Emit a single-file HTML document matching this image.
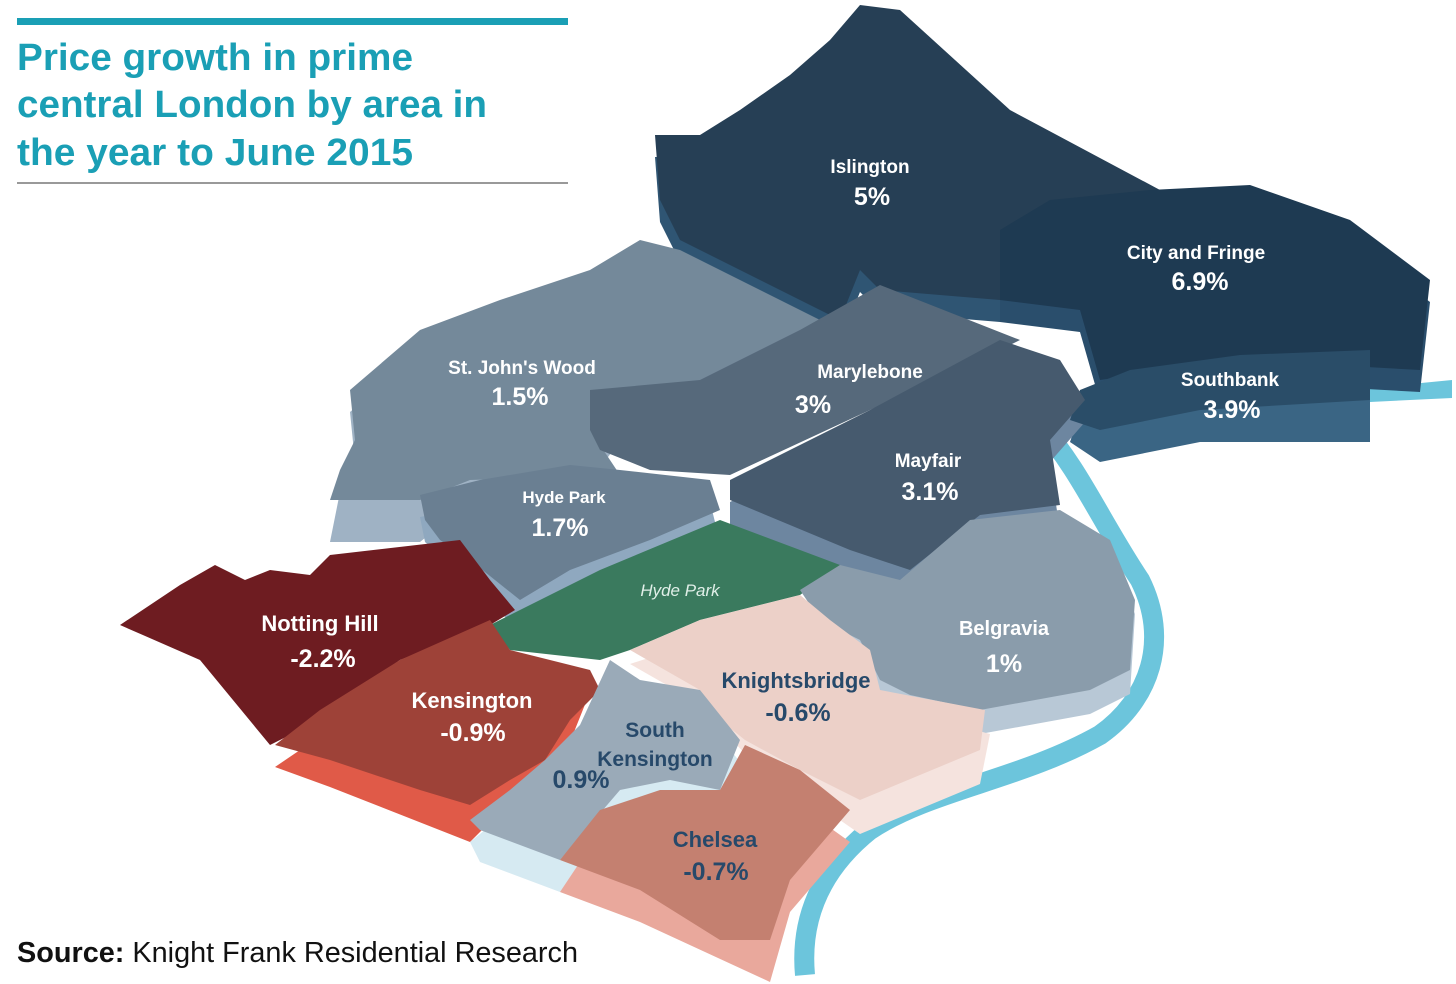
<!DOCTYPE html>
<html><head><meta charset="utf-8"><style>
body{margin:0;background:#fff;}
svg{display:block;}
text{font-family:"Liberation Sans",sans-serif;}
</style></head><body>
<svg width="1456" height="984" viewBox="0 0 1456 984" xmlns="http://www.w3.org/2000/svg">
<rect width="1456" height="984" fill="#fff"/>
<path d="M1040,425 C1080,470 1100,520 1140,580 C1170,640 1150,700 1100,735 C1020,780 930,790 870,830 C820,870 800,920 805,975" fill="none" stroke="#6cc5dc" stroke-width="20"/>
<path d="M1370,388 L1452,380 L1452,398 L1370,402 Z" fill="#6cc5dc"/>
<g transform="translate(0,22)">
<polygon fill="#2f5573" points="655,135 700,135 740,110 790,75 830,40 860,5 900,10 1010,110 1160,190 1000,240 1000,300 880,290 860,270 840,320 680,240 660,200"/>
<polygon fill="#2a4e6c" points="1000,230 1050,200 1150,190 1250,185 1350,220 1430,280 1420,370 1240,360 1100,380 1080,310 1000,300"/>
<polygon fill="#3a6584" points="1080,390 1130,370 1240,355 1370,350 1370,420 1200,420 1100,440 1070,420"/>
<polygon fill="#9fb2c4" points="350,390 420,330 500,300 590,270 640,240 680,250 840,330 760,380 640,395 600,445 620,475 470,480 420,520 330,520 340,470 355,440"/>
<polygon fill="#6d86a0" points="730,480 870,410 1000,340 1060,360 1085,400 1050,440 1060,510 980,520 910,580 850,560 730,510"/>
<polygon fill="#8fa8bf" points="420,495 570,465 710,480 720,520 650,545 570,570 520,610 470,560 425,520"/>
<polygon fill="#e05a48" points="275,745 400,660 490,620 510,650 590,670 570,720 510,780 470,820 330,765"/>
<polygon fill="#d6eaf2" points="470,820 545,760 610,660 700,690 740,740 720,800 620,800 560,870 480,840"/>
<polygon fill="#e9a89c" points="560,870 600,810 720,800 745,745 850,820 790,890 770,960 640,900"/>
</g>
<g transform="translate(0,14)">
<polygon fill="#b8c8d6" points="800,590 900,580 970,520 1060,510 1110,540 1135,600 1130,680 1090,700 980,720 880,680 820,620"/>
<polygon fill="#f5e3de" points="630,650 800,595 870,650 880,690 990,720 980,770 860,820 745,740 700,690"/>
</g>
<polygon fill="#263f55" points="655,135 700,135 740,110 790,75 830,40 860,5 900,10 1010,110 1160,190 1000,240 1000,300 880,290 860,270 840,320 680,240 660,200"/>
<polygon fill="#1e3a52" points="1000,230 1050,200 1150,190 1250,185 1350,220 1430,280 1420,370 1240,360 1100,380 1080,310 1000,300"/>
<polygon fill="#2a4d68" points="1080,390 1130,370 1240,355 1370,350 1370,400 1200,410 1100,430 1070,420"/>
<polygon fill="#74899a" points="350,390 420,330 500,300 590,270 640,240 680,250 840,330 760,380 640,395 600,445 620,475 470,480 420,500 330,500 340,470 355,440"/>
<polygon fill="#56697b" points="590,390 700,380 800,330 880,285 1020,340 1010,345 730,475 650,470 600,450 590,430"/>
<polygon fill="#465a6e" points="730,480 870,410 1000,340 1060,360 1085,400 1050,440 1060,505 980,515 910,570 850,550 730,500"/>
<polygon fill="#6a7f92" points="420,495 480,480 570,465 620,470 710,480 720,510 650,540 570,570 520,600 470,560 440,540 425,520"/>
<polygon fill="#3a7a5e" points="490,625 540,600 600,570 720,520 840,565 800,595 700,620 630,650 600,660 510,650"/>
<polygon fill="#8a9cab" points="800,590 840,565 900,580 970,520 1060,510 1110,540 1135,600 1130,670 1090,690 980,710 910,695 880,680 860,640 820,620"/>
<polygon fill="#ecd0c8" points="630,650 700,620 800,595 830,620 870,650 880,690 985,710 980,750 860,800 800,770 745,740 720,720 700,690"/>
<polygon fill="#6e1c21" points="120,625 180,585 215,565 245,580 270,570 310,575 330,555 460,540 490,580 515,610 490,625 400,660 300,730 270,745 200,660"/>
<polygon fill="#9e4238" points="275,745 320,710 400,660 490,620 510,650 590,670 600,690 570,720 545,760 510,780 470,805 420,790 330,760"/>
<polygon fill="#9aaab8" points="470,820 510,790 545,760 580,725 610,660 640,680 700,690 740,740 720,790 670,780 620,790 560,860 480,830"/>
<polygon fill="#c48070" points="560,860 600,810 660,790 720,790 745,745 800,770 850,810 790,880 770,940 720,940 640,890"/>
<g fill="#fff" font-weight="bold" text-anchor="middle">
<text x="870" y="173" font-size="19">Islington</text><text x="872" y="205" font-size="25">5%</text>
<text x="1196" y="259" font-size="19">City and Fringe</text><text x="1200" y="290" font-size="25">6.9%</text>
<text x="1230" y="386" font-size="19">Southbank</text><text x="1232" y="418" font-size="25">3.9%</text>
<text x="522" y="374" font-size="19">St. John's Wood</text><text x="520" y="405" font-size="25">1.5%</text>
<text x="870" y="378" font-size="19">Marylebone</text><text x="813" y="413" font-size="25">3%</text>
<text x="928" y="467" font-size="19">Mayfair</text><text x="930" y="500" font-size="25">3.1%</text>
<text x="564" y="503" font-size="17">Hyde Park</text><text x="560" y="536" font-size="25">1.7%</text>
<text x="1004" y="635" font-size="20">Belgravia</text><text x="1004" y="672" font-size="25">1%</text>
<text x="320" y="631" font-size="22">Notting Hill</text><text x="323" y="667" font-size="25">-2.2%</text>
<text x="472" y="708" font-size="22">Kensington</text><text x="473" y="741" font-size="25">-0.9%</text>
</g>
<text x="680" y="596" fill="#e0efe8" font-size="17" font-style="italic" text-anchor="middle">Hyde Park</text>
<g fill="#27496a" font-weight="bold" text-anchor="middle">
<text x="796" y="688" font-size="22">Knightsbridge</text><text x="798" y="721" font-size="25">-0.6%</text>
<text x="655" y="737" font-size="21">South</text><text x="655" y="766" font-size="21">Kensington</text><text x="581" y="788" font-size="25">0.9%</text>
<text x="715" y="847" font-size="22">Chelsea</text><text x="716" y="880" font-size="25">-0.7%</text>
</g>
<rect x="17" y="18" width="551" height="7" fill="#1a9fb5"/>
<g fill="#1a9fb5" font-weight="bold" font-size="38">
<text x="17" y="70" textLength="396" lengthAdjust="spacingAndGlyphs">Price growth in prime</text>
<text x="17" y="117" textLength="470" lengthAdjust="spacingAndGlyphs">central London by area in</text>
<text x="17" y="165" textLength="396" lengthAdjust="spacingAndGlyphs">the year to June 2015</text>
</g>
<rect x="17" y="182" width="551" height="2" fill="#999"/>
<text x="17" y="962" font-size="29" fill="#111" textLength="561" lengthAdjust="spacingAndGlyphs"><tspan font-weight="bold">Source:</tspan> Knight Frank Residential Research</text>
</svg>
</body></html>
